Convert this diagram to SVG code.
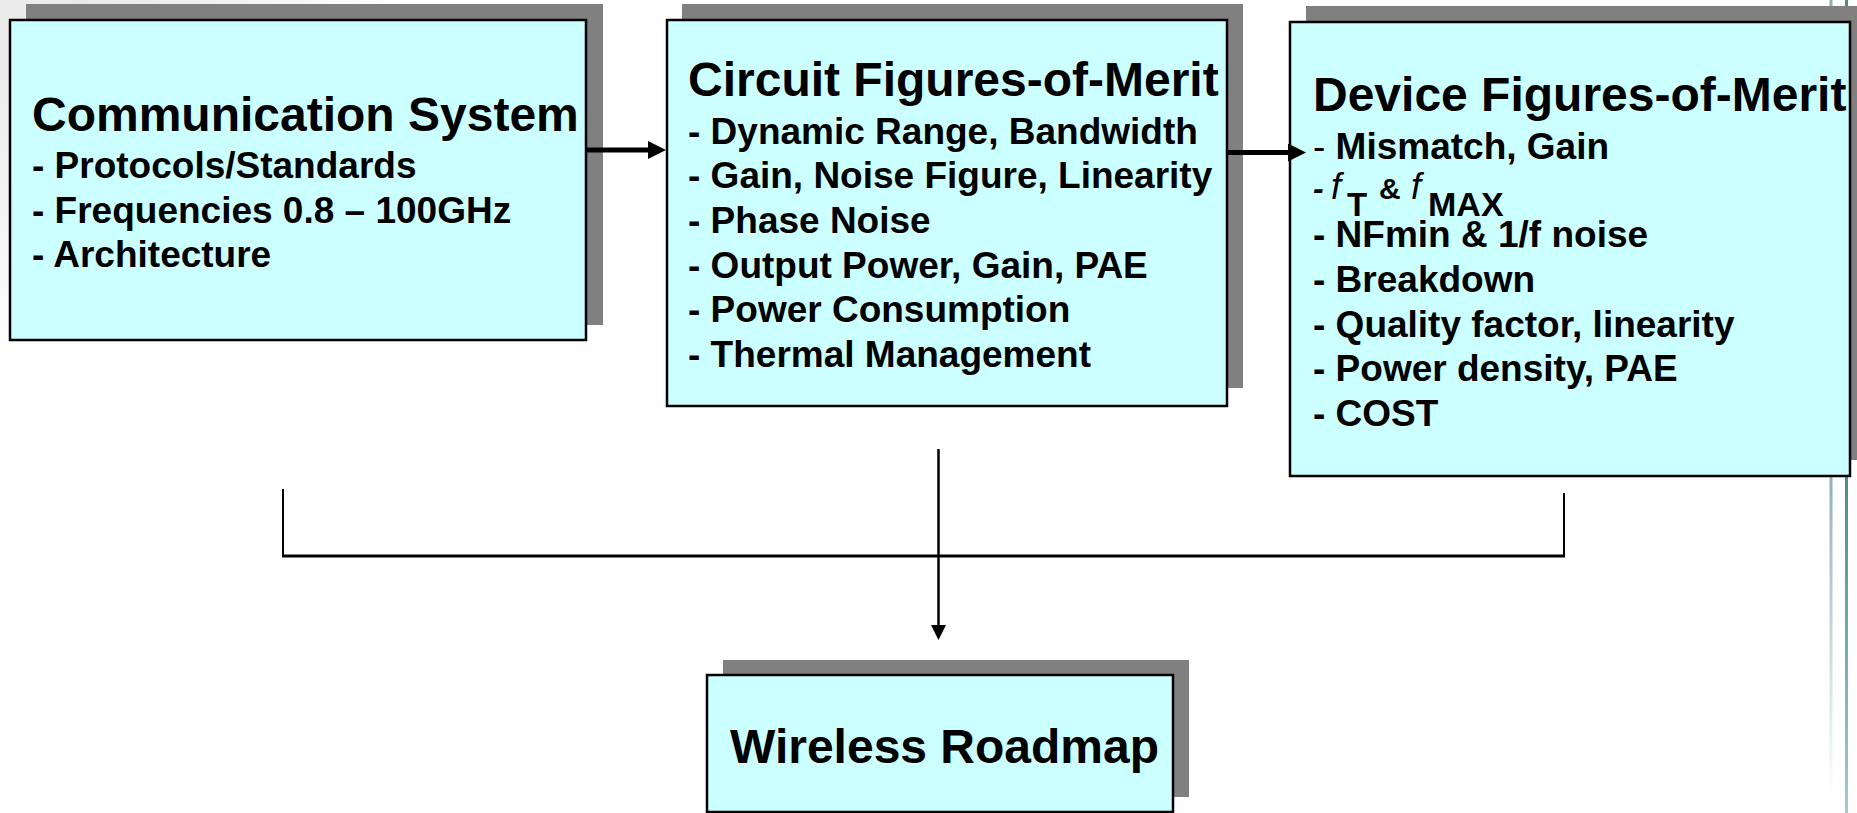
<svg xmlns="http://www.w3.org/2000/svg" width="1857" height="813" viewBox="0 0 1857 813">
  <defs>
    <style>
      .shadow { fill: #808080; }
      .box { fill: #CCFFFF; stroke: #000000; stroke-width: 2.5; }
      .t { font-family: "Liberation Sans", Arial, sans-serif; font-weight: bold; fill: #000000; }
      .title { font-size: 48px; }
      .item { font-size: 37px; }
      .reg { font-weight: normal; }
      .conn { stroke: #000000; fill: none; }
    </style>
    <marker id="arrowBig" markerUnits="userSpaceOnUse" viewBox="0 0 18 18" refX="0" refY="9" markerWidth="18" markerHeight="18" orient="auto">
      <path d="M0,0 L18,9 L0,18 z" fill="#000000"/>
    </marker>
    <marker id="arrowSmall" markerUnits="userSpaceOnUse" viewBox="0 0 15 15" refX="0" refY="7.5" markerWidth="15" markerHeight="15" orient="auto">
      <path d="M0,0 L15,7.5 L0,15 z" fill="#000000"/>
    </marker>
    <radialGradient id="bgTL" cx="80" cy="40" r="330" gradientUnits="userSpaceOnUse">
      <stop offset="0" stop-color="#e6e6e6"/>
      <stop offset="1" stop-color="#ffffff"/>
    </radialGradient>
    <linearGradient id="decoA" x1="0" y1="470" x2="0" y2="800" gradientUnits="userSpaceOnUse">
      <stop offset="0" stop-color="#8fb1b0"/>
      <stop offset="1" stop-color="#ffffff"/>
    </linearGradient>
    <linearGradient id="decoB" x1="0" y1="470" x2="0" y2="813" gradientUnits="userSpaceOnUse">
      <stop offset="0" stop-color="#4a8c89"/>
      <stop offset="1" stop-color="#a9c8c7"/>
    </linearGradient>
  </defs>

  <rect x="0" y="0" width="1857" height="813" fill="#ffffff"/>
  <rect x="0" y="0" width="420" height="330" fill="url(#bgTL)"/>
  <rect x="1829.5" y="0" width="3" height="800" fill="url(#decoA)"/>
  <rect x="1845" y="0" width="3" height="813" fill="url(#decoB)"/>

  <g id="node-communication-system">
    <rect class="shadow" x="26" y="4" width="577" height="321"/>
    <rect class="box" x="10" y="20" width="576" height="320"/>
    <text class="t title" x="32" y="131">Communication System</text>
    <text class="t item" x="32" y="178">- Protocols/Standards</text>
    <text class="t item" x="32" y="222.5">- Frequencies 0.8 – 100GHz</text>
    <text class="t item" x="32" y="267">- Architecture</text>
  </g>

  <g id="node-circuit-fom">
    <rect class="shadow" x="682" y="4" width="561" height="384"/>
    <rect class="box" x="667" y="20" width="560" height="386"/>
    <text class="t title" x="688" y="96">Circuit Figures-of-Merit</text>
    <text class="t item" x="688" y="143.5">- Dynamic Range, Bandwidth</text>
    <text class="t item" x="688" y="188.2">- Gain, Noise Figure, Linearity</text>
    <text class="t item" x="688" y="232.9">- Phase Noise</text>
    <text class="t item" x="688" y="277.6">- Output Power, Gain, PAE</text>
    <text class="t item" x="688" y="322.3">- Power Consumption</text>
    <text class="t item" x="688" y="367">- Thermal Management</text>
  </g>

  <g id="node-device-fom">
    <rect class="shadow" x="1306" y="6" width="551" height="454"/>
    <rect class="box" x="1290" y="22" width="560" height="454"/>
    <text class="t title" x="1313" y="111">Device Figures-of-Merit</text>
    <text class="t item" x="1313" y="159"><tspan class="reg">- </tspan>Mismatch, Gain</text>
    <text class="t" y="199"><tspan x="1313" font-size="32" font-style="italic">-</tspan><tspan class="reg" x="1331" font-size="36" font-style="italic">f</tspan><tspan x="1347" y="216" font-size="33">T</tspan><tspan x="1379" y="199" font-size="30">&amp;</tspan><tspan class="reg" x="1411" font-size="36" font-style="italic">f</tspan><tspan x="1428" y="216" font-size="34">MAX</tspan></text>
    <text class="t item" x="1313" y="247">- NFmin &amp; 1/f noise</text>
    <text class="t item" x="1313" y="292">- Breakdown</text>
    <text class="t item" x="1313" y="336.5">- Quality factor, linearity</text>
    <text class="t item" x="1313" y="381">- Power density, PAE</text>
    <text class="t item" x="1313" y="426">- COST</text>
  </g>

  <g id="node-wireless-roadmap">
    <rect class="shadow" x="723" y="660" width="466" height="137"/>
    <rect class="box" x="707" y="675" width="466" height="137"/>
    <text class="t title" x="730" y="763">Wireless Roadmap</text>
  </g>

  <g id="connectors">
    <line class="conn" x1="586" y1="150" x2="648" y2="150" stroke-width="5" marker-end="url(#arrowBig)"/>
    <line class="conn" x1="1226" y1="152.5" x2="1288" y2="152.5" stroke-width="5" marker-end="url(#arrowBig)"/>
    <line class="conn" x1="283" y1="489" x2="283" y2="556" stroke-width="2"/>
    <line class="conn" x1="1564" y1="493" x2="1564" y2="556" stroke-width="2"/>
    <line class="conn" x1="282" y1="556" x2="1565" y2="556" stroke-width="3"/>
    <line class="conn" x1="938.5" y1="449" x2="938.5" y2="625" stroke-width="2.5" marker-end="url(#arrowSmall)"/>
  </g>
</svg>
